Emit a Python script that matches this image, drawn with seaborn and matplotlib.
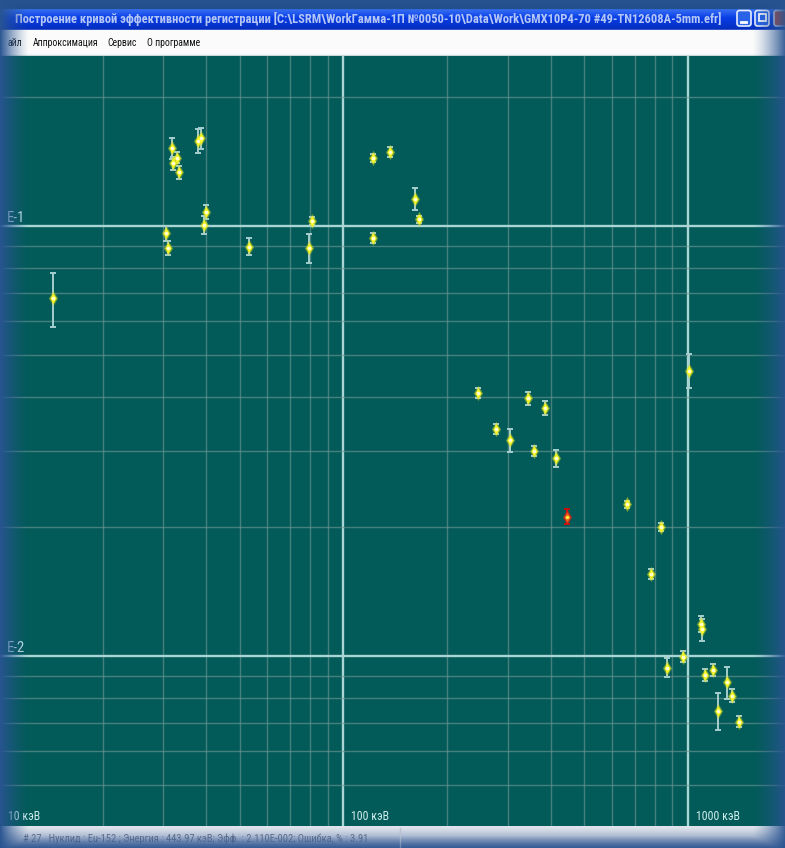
import numpy as np
import pandas as pd
import matplotlib
matplotlib.use("Agg")
import matplotlib.pyplot as plt
from matplotlib import font_manager
from matplotlib.ticker import LogLocator, NullFormatter
from matplotlib.patches import Rectangle, FancyBboxPatch
from matplotlib.transforms import IdentityTransform
import seaborn as sns

# --- calibration points: energy (keV), efficiency, relative error (%) ---
energy_kev = [14.35, 31.7, 32.06, 32.93, 33.37, 37.88, 38.58, 39.97, 39.45, 30.53,
              30.88, 53.06, 80.87, 79.58, 122.1, 136.5, 161.3, 165.6, 122.1, 245.7,
              277.1, 304.2, 343.9, 356.6, 384.5, 413.0, 443.97, 663.9, 834.9, 782.8,
              1006.7, 1090.0, 1095.0, 969.2, 867.6, 1118.0, 1180.0, 1300.6, 1339.6, 1220.0,
              1408.6]
efficiency = [0.0680, 0.1516, 0.1399, 0.1442, 0.1333, 0.1579, 0.1600, 0.1080, 0.1005, 0.0962,
              0.0890, 0.0895, 0.1027, 0.0890, 0.1442, 0.1486, 0.1157, 0.1036, 0.0936, 0.04096,
              0.03378, 0.03175, 0.03975, 0.02992, 0.03773, 0.02883, 0.02110, 0.02253, 0.01992, 0.01549,
              0.04608, 0.01185, 0.01153, 0.009963, 0.009393, 0.009033, 0.009277, 0.0087, 0.00809, 0.00745,
              0.00704]
error_pct = [14.2, 5.8, 3.3, 2.8, 3.3, 6.4, 5.8, 3.7, 4.7, 3.9,
             3.7, 4.5, 2.1, 7.8, 2.2, 2.7, 5.8, 2.0, 2.7, 2.8,
             2.7, 6.3, 3.3, 2.7, 3.9, 4.6, 3.91, 2.0, 2.1, 2.7,
             9.1, 4.3, 5.9, 2.8, 5.1, 3.3, 3.3, 8.5, 3.3, 9.8,
             2.8]
selected_index = 26  # record "# 27" shown in the status bar

x_axis_labels = ["10 кэВ", "100 кэВ", "1000 кэВ"]
x_axis_label_pos = [10, 100, 1000]
y_axis_labels = ["E-1", "E-2"]
y_axis_label_pos = [0.1, 0.01]

window_title = ("Построение кривой эффективности регистрации "
                "[C:\\LSRM\\WorkГамма-1П №0050-10\\Data\\Work\\GMX10P4-70 #49-TN12608A-5mm.efr]")
menu_items = ["айл", "Аппроксимация", "Сервис", "О программе"]
status_text = ("# 27   Нуклид : Eu-152 ; Энергия : 443.97 кэВ; Эфф. : 2.110E-002; "
               "Ошибка, % : 3.91")

df = pd.DataFrame({"energy": energy_kev, "eff": efficiency, "err": error_pct})
df["sigma"] = df["eff"] * df["err"] / 100.0
df["selected"] = False
df.loc[selected_index, "selected"] = True

# --- fonts: prefer a narrow face like the classic Windows UI ---
entries = font_manager.fontManager.ttflist
names = {f.name for f in entries}
FONT_KW = {}
for cand in ["Liberation Sans Narrow", "DejaVu Sans Condensed", "Roboto Condensed",
             "Open Sans Condensed", "Noto Sans Condensed"]:
    if cand in names:
        FONT_KW = {"family": [cand, "DejaVu Sans"]}
        break
if not FONT_KW:
    cond = [f for f in entries if f.stretch in ("condensed", "semi-condensed", 75, 87)]
    if cond:
        FONT_KW = {"family": [cond[0].name, "DejaVu Sans"], "fontstretch": cond[0].stretch}
    else:
        FONT_KW = {"family": ["Liberation Sans", "DejaVu Sans"]}

W, H = 785, 848
fig = plt.figure(figsize=(W / 100, H / 100), dpi=100)
fig.patch.set_facecolor("#24508c")
renderer = fig.canvas.get_renderer()


def fit_size(s, width_px, **kw):
    """Font size at which s is width_px pixels wide."""
    t = fig.text(0, 0, s, fontsize=10, **kw)
    w = t.get_window_extent(renderer=renderer).width
    t.remove()
    return 10 * width_px / w


# --- window chrome (pixel coordinates) ---
chrome = fig.add_axes([0, 0, 1, 1])
chrome.set_xlim(0, W)
chrome.set_ylim(H, 0)
chrome.axis("off")
chrome.set_zorder(0)

# title bar
tb = np.linspace(0, 1, 30)[:, None, None]
tb_top = np.array([0.24, 0.46, 0.96])
tb_mid = np.array([0.03, 0.24, 0.90])
tb_bot = np.array([0.02, 0.18, 0.74])
tb_col = np.where(tb < 0.45,
                  tb_top + (tb_mid - tb_top) * (tb / 0.45),
                  tb_mid + (tb_bot - tb_mid) * ((tb - 0.45) / 0.55))
tb_img = np.repeat(tb_col, 2, axis=1)
chrome.imshow(tb_img, extent=(0, W, 30, 8), aspect="auto", interpolation="bilinear")
chrome.add_patch(Rectangle((0, 0), W, 8, color="#22508a", zorder=1))
# menu bar
chrome.add_patch(Rectangle((0, 30), W, 25, color="#fbfbfb", zorder=1))
chrome.add_patch(Rectangle((0, 54.5), W, 1.5, color="#c8d8d8", zorder=2))
# status bar
sb = np.linspace(0, 1, 22)[:, None, None]
sb_top = np.array([0.88, 0.90, 0.93])
sb_bot = np.array([0.30, 0.42, 0.62])
sb_img = np.repeat(sb_top + (sb_bot - sb_top) * sb ** 1.3, 2, axis=1)
chrome.imshow(sb_img, extent=(0, W, H, 826), aspect="auto", interpolation="bilinear")
chrome.plot([400, 400], [828, 848], color="#b8c2d2", lw=1)

title_fs = fit_size(window_title, 707, fontweight="bold", **FONT_KW)
chrome.text(15, 18.5, window_title, fontsize=title_fs, fontweight="bold",
            color="#b4c6f6", ha="left", va="center", **FONT_KW)
menu_fs = fit_size(menu_items[1], 65, **FONT_KW)
for x0, s in zip([8, 33, 107, 147], menu_items):
    chrome.text(x0, 43, s, fontsize=menu_fs, color="#111111", ha="left", va="center", **FONT_KW)
status_fs = fit_size(status_text, 344, **FONT_KW)
chrome.text(23, 839, status_text, fontsize=status_fs, color="#5a6c8c",
            ha="left", va="center", **FONT_KW)

# title bar buttons
for x0, fc in [(737, "#2a62e8"), (755, "#2a62e8"), (774, "#d8482a")]:
    chrome.add_patch(FancyBboxPatch((x0, 10.5), 14, 15.5,
                                    boxstyle="round,pad=0,rounding_size=2.5",
                                    fc=fc, ec="#e8eeff", lw=1.2, zorder=3))
chrome.plot([741, 746], [22, 22], color="white", lw=2, zorder=4)
chrome.add_patch(Rectangle((758.5, 13.5), 7, 7, fc="none", ec="white", lw=1.3, zorder=4))

# --- plot area ---
ax = fig.add_axes([0, 22 / H, 1, 770 / H])
ax.set_zorder(1)
ax.set_facecolor("#025b58")
ax.set_xscale("log")
ax.set_yscale("log")
ax.set_xlim(10.07, 1912)
ax.set_ylim(0.004023, 0.2485)

ax.xaxis.set_major_locator(LogLocator(base=10, numticks=10))
ax.xaxis.set_minor_locator(LogLocator(base=10, subs=np.arange(2, 10), numticks=20))
ax.yaxis.set_major_locator(LogLocator(base=10, numticks=10))
ax.yaxis.set_minor_locator(LogLocator(base=10, subs=np.arange(2, 10), numticks=20))
for axis in (ax.xaxis, ax.yaxis):
    axis.set_major_formatter(NullFormatter())
    axis.set_minor_formatter(NullFormatter())
ax.tick_params(which="both", length=0)
ax.grid(which="minor", color="#6a9492", lw=1.0, alpha=0.65)
ax.grid(which="major", color="#a9d6d4", lw=1.7)
ax.set_axisbelow(True)
for sp in ax.spines.values():
    sp.set_visible(False)

normal = df[~df["selected"]]
chosen = df[df["selected"]]

ax.errorbar(normal["energy"], normal["eff"], yerr=normal["sigma"], fmt="none",
            ecolor="#a6cfcf", elinewidth=1.4, capsize=2.4, capthick=1.4, zorder=3)
ax.errorbar(chosen["energy"], chosen["eff"], yerr=chosen["sigma"], fmt="none",
            ecolor="#c81010", elinewidth=1.4, capsize=2.4, capthick=1.4, zorder=3)

# glowing markers
sns.scatterplot(data=normal, x="energy", y="eff", ax=ax, marker="d", s=62,
                color="#d8e020", alpha=0.45, linewidth=0, zorder=4, legend=False)
sns.scatterplot(data=normal, x="energy", y="eff", ax=ax, marker="d", s=30,
                color="#f4f41c", linewidth=0, zorder=5, legend=False)
sns.scatterplot(data=normal, x="energy", y="eff", ax=ax, marker="o", s=7,
                color="#ffffd0", linewidth=0, zorder=6, legend=False)
sns.scatterplot(data=chosen, x="energy", y="eff", ax=ax, marker="d", s=62,
                color="#e02010", alpha=0.7, linewidth=0, zorder=4, legend=False)
sns.scatterplot(data=chosen, x="energy", y="eff", ax=ax, marker="d", s=28,
                color="#f06018", linewidth=0, zorder=5, legend=False)
sns.scatterplot(data=chosen, x="energy", y="eff", ax=ax, marker="o", s=6,
                color="#f8f040", linewidth=0, zorder=6, legend=False)
ax.set_xlabel("")
ax.set_ylabel("")

# axis captions drawn inside the plot, placed from the data scales
ymin = ax.get_ylim()[0]
xmin = ax.get_xlim()[0]
cap_fs = fit_size("100 кэВ", 38, **FONT_KW)
e_fs = fit_size("E-1", 18, **FONT_KW)
for pos, lab in zip(x_axis_label_pos, x_axis_labels):
    px, py = ax.transData.transform((max(pos, xmin), ymin))
    ax.text(px + 8, py + 10, lab, transform=IdentityTransform(), fontsize=cap_fs,
            color="#cfeeee", ha="left", va="center", zorder=7, clip_on=False, **FONT_KW)
for pos, lab in zip(y_axis_label_pos, y_axis_labels):
    px, py = ax.transData.transform((xmin, pos))
    ax.text(px + 7, py + 8, lab, transform=IdentityTransform(), fontsize=e_fs,
            color="#cfeeee", ha="left", va="center", zorder=7, clip_on=False, **FONT_KW)

# --- soft blue frame around the window ---
over = fig.add_axes([0, 0, 1, 1])
over.set_zorder(5)
over.axis("off")
xx = np.arange(W)[None, :] + 0.5
yy = np.arange(H)[:, None] + 0.5
a_left = np.clip(1 - xx / 30.0, 0, 1) ** 1.4
a_right = np.clip((xx - 752) / 33.0, 0, 1) ** 1.4 * 0.92
a_top = np.clip(1 - (yy - 0) / 9.0, 0, 1) ** 1.2
a_bot = np.clip((yy - 836) / 12.0, 0, 1) * 0.6
alpha = np.maximum.reduce([a_left + 0 * yy, a_right + 0 * yy, a_top + 0 * xx, a_bot + 0 * xx])
rgba = np.zeros((H, W, 4))
rgba[..., 0] = 0.16
rgba[..., 1] = 0.33
rgba[..., 2] = 0.57
rgba[..., 3] = np.clip(alpha, 0, 1)
over.imshow(rgba, extent=(0, W, H, 0), aspect="auto", interpolation="bilinear")
over.set_xlim(0, W)
over.set_ylim(H, 0)

fig.savefig("out.png", dpi=100, facecolor=fig.get_facecolor())
